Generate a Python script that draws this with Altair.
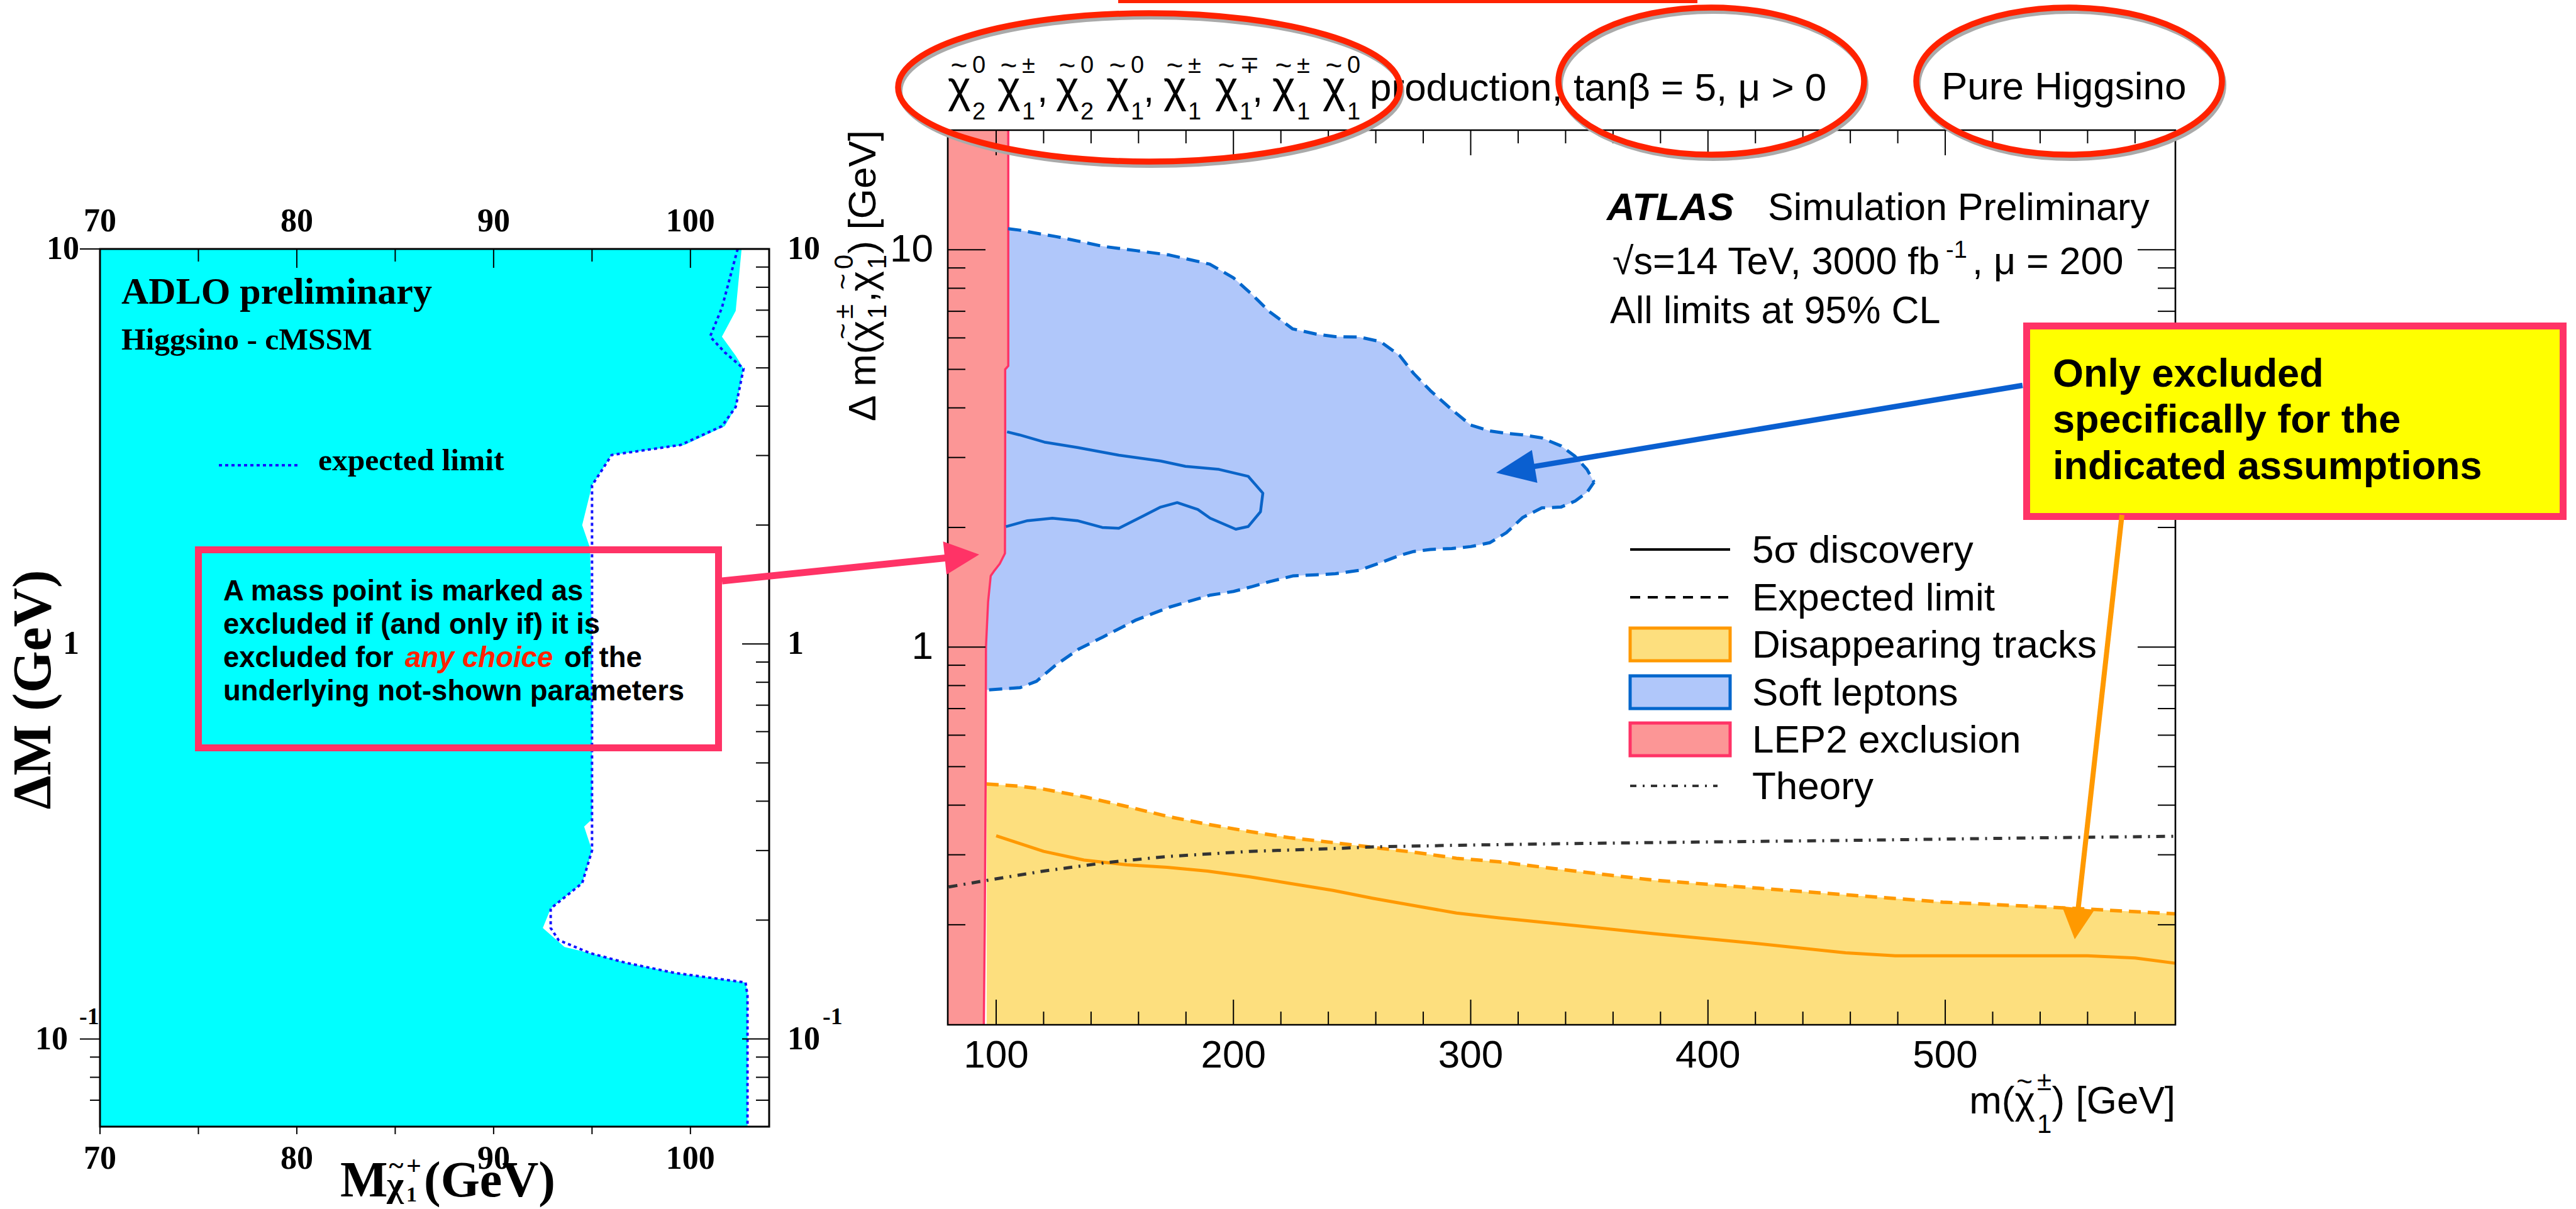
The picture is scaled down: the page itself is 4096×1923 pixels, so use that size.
import math
import altair as alt
import pandas as pd

W, H = 4096, 1923
SANS = "Liberation Sans, Arial, Helvetica, sans-serif"
SERIF = "Liberation Serif, Times New Roman, Times, serif"

# ---------------- data : left panel (ADLO, Higgsino - cMSSM) ----------------
adlo_dm = [10, 6.97, 6.0, 5.37, 4.98, 3.98, 3.56, 3.19, 3.01, 2.52, 2.0, 1.75, 1.0, 0.36,
           0.345, 0.30, 0.248, 0.214, 0.191, 0.171, 0.165, 0.156, 0.147, 0.139, 0.131, 0.06]
adlo_m = [102.6, 102.3, 101.6, 102.3, 102.7, 102.3, 101.75, 99.7, 96.0, 95.0, 94.5, 94.9, 95.0, 95.0,
          94.6, 95.0, 94.5, 92.9, 92.5, 93.6, 94.9, 96.7, 99.2, 102.8, 102.9, 102.9]
adlo_exp_dm = [10, 7.1, 6.0, 5.47, 4.98, 3.98, 3.56, 3.19, 3.01, 2.52, 1.0, 0.30, 0.248, 0.214,
               0.191, 0.178, 0.165, 0.156, 0.147, 0.139, 0.129, 0.06]
adlo_exp_m = [102.4, 101.6, 101.0, 101.75, 102.7, 102.3, 101.6, 99.5, 96.0, 95.0, 95.0, 95.0, 94.5, 92.9,
              92.9, 93.3, 94.9, 96.7, 99.2, 102.8, 102.9, 102.9]
adlo_x_major = [70, 80, 90, 100]
adlo_x_minor = [75, 85, 95]
adlo_x_labels = ["70", "80", "90", "100"]
adlo_y_minor = [0.07, 0.08, 0.09, 0.2, 0.3, 0.4, 0.5, 0.6, 0.7, 0.8, 0.9, 2, 3, 4, 5, 6, 7, 8, 9]
adlo_y_major = [0.1, 1, 10]

# ---------------- data : right panel (ATLAS HL-LHC projection) ----------------
soft_m = [95, 105, 110, 117, 125, 135, 145, 159, 173, 190, 200, 208, 215, 225, 235, 243, 253, 262,
          270, 276, 283, 292, 300, 308, 315, 322, 330, 338, 344, 349, 352]
soft_top = [11.3, 11.3, 11.2, 11.0, 10.8, 10.5, 10.2, 9.95, 9.7, 9.2, 8.5, 7.7, 7.0, 6.32, 6.13, 6.04,
            6.03, 5.87, 5.42, 4.88, 4.42, 3.96, 3.62, 3.50, 3.45, 3.42, 3.36, 3.21, 3.02, 2.80, 2.60]
soft_bot = [0.78, 0.78, 0.79, 0.82, 0.90, 0.99, 1.06, 1.17, 1.26, 1.35, 1.38, 1.42, 1.46, 1.51, 1.52,
            1.53, 1.56, 1.63, 1.70, 1.74, 1.76, 1.77, 1.79, 1.83, 1.94, 2.12, 2.24, 2.25, 2.33, 2.45, 2.60]
soft5_m = [104.6, 109.8, 120.3, 134.2, 151.7, 169.3, 179.8, 193.9, 206.2, 212.4, 211.4, 206.2, 201.0,
           190.2, 185.0, 176.3, 169.3, 162.2, 151.7, 144.7, 134.2, 123.7, 113.2, 104.1]
soft5_dm = [3.48, 3.42, 3.28, 3.18, 3.04, 2.94, 2.85, 2.80, 2.69, 2.44, 2.19, 2.01, 1.98, 2.11, 2.22,
            2.31, 2.25, 2.14, 1.99, 2.00, 2.08, 2.11, 2.08, 2.01]
dt_exp_m = [96, 109, 120, 137, 155, 172, 189, 207, 224, 242, 259, 277, 294, 312, 337, 377, 418, 458,
            499, 540, 560, 597]
dt_exp_dm = [0.452, 0.447, 0.439, 0.420, 0.397, 0.375, 0.358, 0.343, 0.331, 0.322, 0.313, 0.304, 0.294,
             0.288, 0.276, 0.259, 0.248, 0.238, 0.228, 0.222, 0.219, 0.213]
dt5_m = [100, 120, 137, 155, 172, 189, 207, 224, 242, 259, 277, 294, 312, 337, 377, 418, 458, 479, 519,
         560, 580, 597]
dt5_dm = [0.335, 0.306, 0.291, 0.283, 0.279, 0.273, 0.264, 0.254, 0.244, 0.233, 0.223, 0.214, 0.208,
          0.201, 0.190, 0.180, 0.170, 0.167, 0.167, 0.167, 0.165, 0.160]
theory_m = [80, 95, 120, 147, 172, 207, 242, 259, 294, 340, 377, 458, 540, 597]
theory_dm = [0.249, 0.258, 0.273, 0.287, 0.297, 0.306, 0.311, 0.314, 0.317, 0.320, 0.322, 0.326, 0.331, 0.334]
lep_dm = [0.112, 0.2, 0.5, 1.0, 1.3, 1.51, 1.55, 1.62, 1.72, 3.0, 5.0, 5.1, 10, 20]
lep_m = [94.8, 95.2, 95.6, 95.7, 96.6, 97.7, 99.0, 101.5, 103.7, 103.8, 103.8, 105.1, 105.1, 105.1]
atlas_x_major = [100, 200, 300, 400, 500]
atlas_x_labels = ["100", "200", "300", "400", "500"]
atlas_x_minor = [120, 140, 160, 180, 220, 240, 260, 280, 320, 340, 360, 380, 420, 440, 460, 480,
                 520, 540, 560, 580]
atlas_y_major = [1, 10]
atlas_y_minor = [0.2, 0.3, 0.4, 0.5, 0.6, 0.7, 0.8, 0.9, 2, 3, 4, 5, 6, 7, 8, 9]
legend_labels = ["5\u03c3 discovery", "Expected limit", "Disappearing tracks", "Soft leptons",
                 "LEP2 exclusion", "Theory"]

# ---------------- geometry (pixels in the 4096 x 1923 canvas) ----------------
LX0, LX1, LY0, LY1 = 159, 1223, 396, 1792
RX0, RX1, RY0, RY1 = 1507, 3459, 207, 1630

xL = alt.Scale(type="linear", domain=[70, 104], range=[LX0, LX1], zero=False, nice=False)
yL = alt.Scale(type="log", domain=[0.06, 10], range=[LY1, LY0], nice=False)
xR = alt.Scale(type="linear", domain=[79.6, 597], range=[RX0, RX1], zero=False, nice=False)
yR = alt.Scale(type="log", domain=[0.112, 20], range=[RY1, RY0], nice=False)

ONE = pd.DataFrame({"a": [0]})
layers = []


def X(f, s):
    return alt.X(f, scale=s, axis=None)


def Y(f, s):
    return alt.Y(f, scale=s, axis=None)


def txt(s, x, y, size, font=SANS, weight="normal", style="normal", color="black",
        align="left", baseline="alphabetic", angle=0):
    return alt.Chart(ONE).mark_text(text=s, font=font, fontSize=size, fontWeight=weight,
                                    fontStyle=style, color=color, align=align,
                                    baseline=baseline, angle=angle).encode(
        x=alt.value(x), y=alt.value(y))


def rule(x1, y1, x2, y2, color="black", w=2.0, dash=None, cap="butt"):
    kw = dict(color=color, strokeWidth=w, strokeCap=cap)
    if dash:
        kw["strokeDash"] = dash
    return alt.Chart(ONE).mark_rule(**kw).encode(
        x=alt.value(x1), y=alt.value(y1), x2=alt.value(x2), y2=alt.value(y2))


def box(x1, y1, x2, y2, fill="transparent", stroke="black", w=0.0):
    kw = dict(fill=fill, strokeWidth=w, opacity=1)
    if w > 0:
        kw["stroke"] = stroke
    return alt.Chart(ONE).mark_rect(**kw).encode(
        x=alt.value(x1), y=alt.value(y1), x2=alt.value(x2), y2=alt.value(y2))


def xticks(vals, s, y1, y2, w=2.0):
    return alt.Chart(pd.DataFrame({"v": vals})).mark_rule(color="black", strokeWidth=w).encode(
        x=X("v:Q", s), y=alt.value(y1), y2=alt.value(y2))


def yticks(vals, s, x1, x2, w=2.0):
    return alt.Chart(pd.DataFrame({"v": vals})).mark_rule(color="black", strokeWidth=w).encode(
        y=Y("v:Q", s), x=alt.value(x1), x2=alt.value(x2))


def curve(xs, ys, sx, sy, color, w, dash=None):
    kw = dict(color=color, strokeWidth=w, strokeCap="butt", strokeJoin="round", opacity=1)
    if dash:
        kw["strokeDash"] = dash
    d = pd.DataFrame({"m": xs, "dm": ys, "i": list(range(len(xs)))})
    return alt.Chart(d).mark_line(**kw).encode(x=X("m:Q", sx), y=Y("dm:Q", sy), order="i:Q")


def ellipse(cx, cy, rx, ry, color, w):
    k = 0.5523
    r = ry / rx
    p = (f"M1,0C1,{k*r:.4f},{k:.4f},{r:.4f},0,{r:.4f}C{-k:.4f},{r:.4f},-1,{k*r:.4f},-1,0"
         f"C-1,{-k*r:.4f},{-k:.4f},{-r:.4f},0,{-r:.4f}C{k:.4f},{-r:.4f},1,{-k*r:.4f},1,0Z")
    return alt.Chart(ONE).mark_point(shape=p, filled=False, stroke=color, strokeWidth=w,
                                     size=(2 * rx) ** 2, opacity=1).encode(
        x=alt.value(cx), y=alt.value(cy))


def arrow(x1, y1, x2, y2, color, w, hl, hw):
    dx, dy = x2 - x1, y2 - y1
    d = math.hypot(dx, dy)
    ux, uy = dx / d, dy / d
    bx, by = x2 - ux * hl * 0.85, y2 - uy * hl * 0.85
    ang = math.degrees(math.atan2(dy, dx)) % 360
    q = hw / hl
    path = f"M1,0L-1,{-q:.3f}L-1,{q:.3f}Z"
    line = rule(x1, y1, bx, by, color=color, w=w)
    head = alt.Chart(ONE).mark_point(shape=path, filled=True, color=color, opacity=1,
                                     size=hl ** 2, angle=ang, strokeWidth=0).encode(
        x=alt.value(x2 - ux * hl / 2), y=alt.value(y2 - uy * hl / 2))
    return [line, head]


def tilde(x, y, size, angle=0, font=SANS, weight="normal"):
    return txt("~", x, y, size, font=font, weight=weight, align="center", baseline="middle",
               angle=angle)


# ======================= LEFT PANEL =======================
cyan = pd.DataFrame({"dm": adlo_dm, "m": adlo_m, "m0": [70] * len(adlo_m)})
layers.append(alt.Chart(cyan).mark_area(orient="horizontal", color="#00FFFF", opacity=1).encode(
    y=Y("dm:Q", yL), x=X("m:Q", xL), x2="m0:Q"))
layers.append(curve(adlo_exp_m, adlo_exp_dm, xL, yL, "#1414FF", 4, dash=[5, 5]))

layers.append(xticks(adlo_x_major, xL, LY0, LY0 + 30))
layers.append(xticks(adlo_x_minor, xL, LY0, LY0 + 20))
layers.append(xticks(adlo_x_major + adlo_x_minor, xL, LY1, LY1 + 12))
layers.append(yticks(adlo_y_major, yL, LX1 - 43, LX1))
layers.append(yticks(adlo_y_minor, yL, LX1 - 21, LX1))
layers.append(yticks([10, 0.1], yL, LX0 - 32, LX0))
layers.append(yticks([0.07, 0.08, 0.09], yL, LX0 - 16, LX0))
layers.append(box(LX0, LY0, LX1, LY1, stroke="black", w=3))

lab = pd.DataFrame({"v": adlo_x_major, "t": adlo_x_labels})
for yy in (352, 1843):
    layers.append(alt.Chart(lab).mark_text(font=SERIF, fontWeight="bold", fontSize=52,
                                           align="center", baseline="middle").encode(
        x=X("v:Q", xL), y=alt.value(yy), text="t:N"))
ylab = pd.DataFrame({"v": [10, 1], "t": ["10", "1"]})
layers.append(alt.Chart(ylab).mark_text(font=SERIF, fontWeight="bold", fontSize=52,
                                        align="right", baseline="middle").encode(
    y=Y("v:Q", yL), x=alt.value(126), text="t:N"))
layers.append(alt.Chart(ylab).mark_text(font=SERIF, fontWeight="bold", fontSize=52,
                                        align="left", baseline="middle").encode(
    y=Y("v:Q", yL), x=alt.value(1252), text="t:N"))
ylab2 = pd.DataFrame({"v": [0.1], "t": ["10"], "s": ["-1"]})
layers.append(alt.Chart(ylab2).mark_text(font=SERIF, fontWeight="bold", fontSize=52,
                                         align="right", baseline="middle").encode(
    y=Y("v:Q", yL), x=alt.value(108), text="t:N"))
layers.append(alt.Chart(ylab2).mark_text(font=SERIF, fontWeight="bold", fontSize=38,
                                         align="left", baseline="middle", dy=-35).encode(
    y=Y("v:Q", yL), x=alt.value(126), text="s:N"))
layers.append(alt.Chart(ylab2).mark_text(font=SERIF, fontWeight="bold", fontSize=52,
                                         align="left", baseline="middle").encode(
    y=Y("v:Q", yL), x=alt.value(1252), text="t:N"))
layers.append(alt.Chart(ylab2).mark_text(font=SERIF, fontWeight="bold", fontSize=38,
                                         align="left", baseline="middle", dy=-35).encode(
    y=Y("v:Q", yL), x=alt.value(1308), text="s:N"))

layers.append(txt("ADLO preliminary", 193, 483, 60, font=SERIF, weight="bold"))
layers.append(txt("Higgsino - cMSSM", 193, 556, 49.5, font=SERIF, weight="bold"))
layers.append(rule(348, 740, 475, 740, color="#1414FF", w=4, dash=[5, 5]))
layers.append(txt("expected limit", 506, 748, 49.5, font=SERIF, weight="bold"))
layers.append(txt("\u0394M (GeV)", 54, 1097, 86, font=SERIF, weight="bold", align="center",
                  baseline="middle", angle=270))
# x title  M chi~_1^+ (GeV)
layers.append(txt("M", 541, 1903, 80, font=SERIF, weight="bold"))
layers.append(txt("\u03c7", 615, 1903, 58, font=SERIF, weight="bold"))
layers.append(tilde(630, 1855, 44, font=SERIF, weight="bold"))
layers.append(txt("1", 646, 1911, 34, font=SERIF, weight="bold"))
layers.append(txt("+", 646, 1868, 42, font=SERIF, weight="bold"))
layers.append(txt("(GeV)", 674, 1903, 80, font=SERIF, weight="bold"))

# ======================= RIGHT PANEL =======================
dt_area = pd.DataFrame({"m": dt_exp_m, "dm": dt_exp_dm, "lo": [0.112] * len(dt_exp_m)})
layers.append(alt.Chart(dt_area).mark_area(color="#FDDF7E", opacity=1).encode(
    x=X("m:Q", xR), y=Y("dm:Q", yR), y2="lo:Q"))
soft_area = pd.DataFrame({"m": soft_m, "top": soft_top, "bot": soft_bot})
layers.append(alt.Chart(soft_area).mark_area(color="#B0C7FA", opacity=1).encode(
    x=X("m:Q", xR), y=Y("top:Q", yR), y2="bot:Q"))
lep = pd.DataFrame({"dm": lep_dm, "m": lep_m, "m0": [79.6] * len(lep_m)})
layers.append(alt.Chart(lep).mark_area(orient="horizontal", color="#FC9696", opacity=1).encode(
    y=Y("dm:Q", yR), x=X("m:Q", xR), x2="m0:Q"))
layers.append(curve(lep_m, lep_dm, xR, yR, "#FF3366", 3.5))

layers.append(curve(soft_m[1:], soft_top[1:], xR, yR, "#0066CC", 5, dash=[21, 11]))
layers.append(curve([97] + soft_m[2:], [0.78] + soft_bot[2:], xR, yR, "#0066CC", 5, dash=[21, 11]))
layers.append(curve(soft5_m, soft5_dm, xR, yR, "#0A64C8", 4.5))
layers.append(curve(dt_exp_m, dt_exp_dm, xR, yR, "#FF9900", 5.5, dash=[19, 11]))
layers.append(curve(dt5_m, dt5_dm, xR, yR, "#FF9900", 5))
layers.append(curve(theory_m, theory_dm, xR, yR, "#333333", 5, dash=[14, 10, 3, 10]))

layers.append(xticks(atlas_x_major, xR, RY0, RY0 + 40))
layers.append(xticks(atlas_x_minor, xR, RY0, RY0 + 21))
layers.append(xticks(atlas_x_major, xR, RY1 - 40, RY1))
layers.append(xticks(atlas_x_minor, xR, RY1 - 21, RY1))
layers.append(yticks(atlas_y_major, yR, RX0, RX0 + 60))
layers.append(yticks(atlas_y_minor, yR, RX0, RX0 + 28))
layers.append(yticks(atlas_y_major, yR, RX1 - 60, RX1))
layers.append(yticks(atlas_y_minor, yR, RX1 - 28, RX1))
layers.append(box(RX0, RY0, RX1, RY1, stroke="black", w=2.6))

xl = pd.DataFrame({"v": atlas_x_major, "t": atlas_x_labels})
layers.append(alt.Chart(xl).mark_text(font=SANS, fontSize=62, align="center",
                                      baseline="alphabetic").encode(
    x=X("v:Q", xR), y=alt.value(1698), text="t:N"))
yl = pd.DataFrame({"v": atlas_y_major, "t": ["1", "10"]})
layers.append(alt.Chart(yl).mark_text(font=SANS, fontSize=62, align="right",
                                      baseline="middle").encode(
    y=Y("v:Q", yR), x=alt.value(1484), text="t:N"))

# x-axis title  m(chi~_1^+-) [GeV]
layers.append(txt(") [GeV]", RX1, 1771, 62, align="right"))
layers.append(txt("1", 3239, 1802, 42))
layers.append(txt("\u00b1", 3239, 1734, 42))
layers.append(txt("m(\u03c7", 3236, 1771, 62, align="right"))
layers.append(tilde(3219, 1722, 44))

# y-axis title  Delta m(chi~_1^+-, chi~_1^0) [GeV]  (rotated)
BX = 1392
layers.append(txt(") [GeV]", BX, 207, 62, align="right", angle=270))
layers.append(txt("1", BX + 17, 405, 42, align="right", angle=270))
layers.append(txt("0", BX - 36, 405, 42, align="right", angle=270))
layers.append(txt(",\u03c7", BX, 431, 62, align="right", angle=270))
layers.append(tilde(BX - 50, 448, 44, angle=270))
layers.append(txt("1", BX + 17, 484, 42, align="right", angle=270))
layers.append(txt("\u00b1", BX - 36, 484, 42, align="right", angle=270))
layers.append(txt("\u0394 m(\u03c7", BX, 510, 62, align="right", angle=270))
layers.append(tilde(BX - 50, 527, 44, angle=270))

# header line
chi_x = [1507, 1586, 1679, 1759, 1850, 1932, 2023, 2103]
chi_sub = ["2", "1", "2", "1", "1", "1", "1", "1"]
chi_sup = ["0", "\u00b1", "0", "0", "\u00b1", "\u2213", "\u00b1", "0"]
for cx, sb, sp in zip(chi_x, chi_sub, chi_sup):
    layers.append(txt("\u03c7", cx, 162, 70))
    layers.append(tilde(cx + 18, 106, 46))
    layers.append(txt(sb, cx + 39, 190, 38))
    layers.append(txt(sp, cx + 39, 116, 38))
for cx in (1649, 1818, 1991):
    layers.append(txt(",", cx, 162, 62))
layers.append(txt("production, tan\u03b2 = 5, \u03bc > 0", 2178, 160, 62))
layers.append(txt("Pure Higgsino", 3087, 158, 62))

# ATLAS labels
layers.append(txt("ATLAS", 2555, 350, 62, weight="bold", style="italic"))
layers.append(txt("Simulation Preliminary", 2811, 350, 61))
layers.append(txt("\u221as=14 TeV, 3000 fb", 2564, 436, 61))
layers.append(txt("-1", 3094, 410, 38))
layers.append(txt(", \u03bc = 200", 3136, 436, 61))
layers.append(txt("All limits at 95% CL", 2560, 514, 61))

# legend
LGX0, LGX1, LTX = 2592, 2751, 2786
rows = [874, 950, 1025, 1101, 1176, 1250]
layers.append(rule(LGX0, rows[0], LGX1, rows[0], w=4))
layers.append(rule(LGX0, rows[1], LGX1, rows[1], w=4, dash=[16, 12]))
layers.append(box(LGX0, rows[2] - 26, LGX1, rows[2] + 26, fill="#FDDF7E", stroke="#FF9900", w=5))
layers.append(box(LGX0, rows[3] - 26, LGX1, rows[3] + 26, fill="#B0C7FA", stroke="#0066CC", w=5))
layers.append(box(LGX0, rows[4] - 26, LGX1, rows[4] + 26, fill="#FC9696", stroke="#FF3366", w=5))
layers.append(rule(LGX0, rows[5], LGX1 - 20, rows[5], color="#333333", w=4, dash=[10, 10, 3, 10]))
for r, t in zip(rows, legend_labels):
    layers.append(txt(t, LTX, r + 21, 62))

# ======================= ANNOTATIONS =======================
layers.append(box(1778, 0, 2699, 5, fill="#FF2200"))
for (cx, cy, rx, ry) in [(1827, 139, 399, 118), (2721, 129, 243, 117), (3290, 129, 243, 117)]:
    layers.append(ellipse(cx + 3, cy + 6, rx, ry, "#AAAAAA", 8))
    layers.append(ellipse(cx, cy, rx, ry, "#FF2200", 9.5))

layers.append(box(315.5, 874.5, 1142.5, 1189.5, stroke="#FF3366", w=11))
layers.append(txt("A mass point is marked as", 355, 955, 45.5, weight="bold"))
layers.append(txt("excluded if (and only if) it is", 355, 1008, 45.5, weight="bold"))
layers.append(txt("excluded for", 355, 1061, 45.5, weight="bold"))
layers.append(txt("any choice", 644, 1061, 45.5, weight="bold", style="italic", color="#FF2200"))
layers.append(txt("of the", 897, 1061, 45.5, weight="bold"))
layers.append(txt("underlying not-shown parameters", 355, 1114, 45.5, weight="bold"))

layers.append(box(3222.5, 518.5, 4075.5, 821.5, fill="#FFFF00", stroke="#FF3366", w=11))
layers.append(txt("Only excluded", 3264, 615, 63, weight="bold"))
layers.append(txt("specifically for the", 3264, 688, 63, weight="bold"))
layers.append(txt("indicated assumptions", 3264, 762, 63, weight="bold"))

layers += arrow(1148, 924, 1557, 882, "#FF3366", 11, 55, 53)
layers += arrow(3216, 613, 2379, 752, "#0A5FD0", 8.5, 62, 53)
layers += arrow(3374, 819, 3299, 1494, "#FF9900", 8, 50, 52)

chart = alt.layer(*layers).resolve_scale(x="independent", y="independent").properties(
    width=W, height=H, autosize=alt.AutoSizeParams(type="none"), padding=0,
    background="white").configure_view(stroke=None)

chart.save("out.html", embed_options={"renderer": "svg", "actions": False})
